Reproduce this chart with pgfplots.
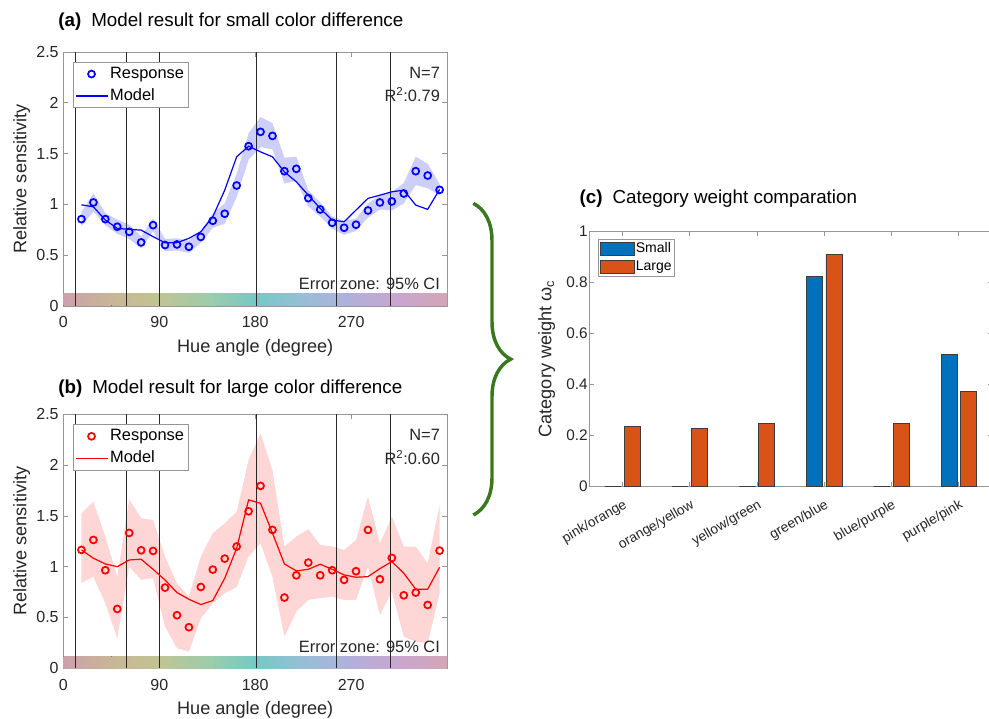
\documentclass[border=0pt]{standalone}
\usepackage{fontspec}
\setmainfont{Liberation Sans}
\usepackage{pgfplots}
\pgfplotsset{compat=1.18}
\usepackage{pgfplotstable}
\usepgfplotslibrary{fillbetween}
\usetikzlibrary{decorations.pathreplacing}

\definecolor{respblue}{RGB}{0,0,255}
\definecolor{bandblue}{RGB}{205,207,250}
\definecolor{respred}{RGB}{255,0,0}
\definecolor{bandred}{RGB}{255,214,214}
\definecolor{axgray}{RGB}{150,150,150}
\definecolor{ticktext}{RGB}{38,38,38}
\definecolor{catline}{RGB}{40,40,40}
\definecolor{mblue}{RGB}{0,114,189}
\definecolor{morange}{RGB}{217,83,25}
\definecolor{baredge}{RGB}{60,60,60}
\definecolor{bracegreen}{RGB}{58,120,32}
% muted hue strip
\definecolor{hb0}{RGB}{205,160,172}
\definecolor{hb1}{RGB}{200,182,150}
\definecolor{hb2}{RGB}{192,196,148}
\definecolor{hb3}{RGB}{158,204,170}
\definecolor{hb4}{RGB}{118,200,196}
\definecolor{hb5}{RGB}{152,190,214}
\definecolor{hb6}{RGB}{178,176,218}
\definecolor{hb7}{RGB}{202,166,206}
\definecolor{hb8}{RGB}{210,166,182}

% hue angle, response, model, 95% CI bounds
\pgfplotstableread{
x     resp   model  lo     hi
17.0  0.855  0.996  0.785  0.925
28.2  1.019  0.976  0.930  1.110
39.4  0.855  0.846  0.795  0.915
50.6  0.780  0.764  0.710  0.850
61.8  0.730  0.754  0.660  0.800
73.0  0.626  0.747  0.566  0.686
84.2  0.796  0.682  0.736  0.862
95.4  0.600  0.623  0.540  0.660
106.6 0.606  0.623  0.546  0.666
117.8 0.583  0.666  0.523  0.643
129.0 0.680  0.731  0.620  0.740
140.2 0.839  0.878  0.770  0.910
151.4 0.908  1.140  0.810  1.010
162.6 1.186  1.468  1.070  1.300
173.8 1.573  1.573  1.440  1.700
185.0 1.714  1.517  1.565  1.860
196.2 1.674  1.468  1.540  1.800
207.4 1.327  1.320  1.206  1.460
218.6 1.350  1.222  1.230  1.470
229.8 1.062  1.091  0.980  1.140
241.0 0.950  0.960  0.880  1.020
252.2 0.819  0.846  0.760  0.880
263.4 0.770  0.829  0.700  0.840
274.6 0.800  0.944  0.740  0.860
285.8 0.940  1.059  0.870  1.010
297.0 1.019  1.091  0.950  1.090
308.2 1.029  1.124  0.940  1.120
319.4 1.107  1.140  1.010  1.210
330.6 1.327  0.993  1.190  1.470
341.8 1.284  0.951  1.160  1.400
353.0 1.143  1.147  1.090  1.200
}\smalltab

\pgfplotstableread{
x     resp   model  lo     hi
17.0  1.165  1.165  0.840  1.525
28.2  1.263  1.083  0.900  1.640
39.4  0.965  1.027  0.640  1.296
50.6  0.584  1.000  0.295  0.900
61.8  1.332  1.066  1.000  1.663
73.0  1.161  1.073  0.870  1.476
84.2  1.155  0.974  0.886  1.460
95.4  0.794  0.869  0.410  1.100
106.6 0.522  0.745  0.197  0.837
117.8 0.404  0.679  0.164  0.705
129.0 0.800  0.627  0.490  1.100
140.2 0.971  0.666  0.640  1.330
151.4 1.079  0.886  0.738  1.427
162.6 1.198  1.181  0.800  1.540
173.8 1.545  1.657  1.100  2.050
185.0 1.795  1.624  1.230  2.313
196.2 1.362  1.330  0.900  1.950
207.4 0.696  1.027  0.310  1.198
218.6 0.915  0.958  0.558  1.296
229.8 1.040  0.974  0.673  1.368
241.0 0.915  1.024  0.690  1.214
252.2 0.965  0.974  0.705  1.198
263.4 0.870  0.919  0.673  1.165
274.6 0.955  0.896  0.673  1.263
285.8 1.362  0.902  1.000  1.690
297.0 0.876  0.981  0.525  1.230
308.2 1.086  1.050  0.755  1.493
319.4 0.718  0.935  0.310  1.198
330.6 0.745  0.778  0.262  1.198
341.8 0.623  0.778  0.246  1.033
353.0 1.158  0.994  0.738  1.608
}\largetab

% category weights
\pgfplotstableread{
c small large
1 0     0.236
2 0     0.228
3 0     0.246
4 0.821 0.909
5 0     0.248
6 0.518 0.374
}\weights

\newcommand{\huestrip}{%
  \fill[left color=hb0,right color=hb1] (axis cs:0,0) rectangle (axis cs:45.5,0.12);
  \fill[left color=hb1,right color=hb2] (axis cs:45,0) rectangle (axis cs:90.5,0.12);
  \fill[left color=hb2,right color=hb3] (axis cs:90,0) rectangle (axis cs:135.5,0.12);
  \fill[left color=hb3,right color=hb4] (axis cs:135,0) rectangle (axis cs:180.5,0.12);
  \fill[left color=hb4,right color=hb5] (axis cs:180,0) rectangle (axis cs:225.5,0.12);
  \fill[left color=hb5,right color=hb6] (axis cs:225,0) rectangle (axis cs:270.5,0.12);
  \fill[left color=hb6,right color=hb7] (axis cs:270,0) rectangle (axis cs:315.5,0.12);
  \fill[left color=hb7,right color=hb8] (axis cs:315,0) rectangle (axis cs:360,0.12);
}
\newcommand{\catlines}{%
  \addplot[forget plot, catline, line width=0.8pt] coordinates {(11,0) (11,2.5)};
  \addplot[forget plot, catline, line width=0.8pt] coordinates {(59.5,0) (59.5,2.5)};
  \addplot[forget plot, catline, line width=0.8pt] coordinates {(90,0) (90,2.5)};
  \addplot[forget plot, catline, line width=0.8pt] coordinates {(181,0) (181,2.5)};
  \addplot[forget plot, catline, line width=0.8pt] coordinates {(256,0) (256,2.5)};
  \addplot[forget plot, catline, line width=0.8pt] coordinates {(306.5,0) (306.5,2.5)};
}

\pgfplotsset{
  matlabaxis/.style={
    scale only axis,
    axis line style={draw=axgray},
    every tick/.style={axgray, line width=0.5pt},
    major tick length=3.5pt,
    tick align=inside,
    /pgf/number format/assume math mode=true,
    every tick label/.append style={text=ticktext},
    label style={font=\fontsize{13.6}{16}\selectfont, text=ticktext},
    title style={font=\fontsize{14.1}{17}\selectfont, anchor=west, inner sep=0pt, yshift=-6pt},
  },
  hueaxis/.style={
    matlabaxis,
    width=287.8pt, height=190.5pt,
    xmin=0, xmax=360, ymin=0, ymax=2.5,
    xtick={0,90,180,270}, ytick={0,0.5,1,1.5,2,2.5},
    yticklabels={0,0.5,1,1.5,2,2.5},
    tick label style={font=\fontsize{12}{14}\selectfont},
    xticklabel style={yshift=-4.5pt},
    xlabel={Hue angle (degree)}, ylabel={Relative sensitivity},
    xlabel style={at={(axis description cs:0.5,-0.163)}, anchor=center},
    ylabel style={at={(axis description cs:-0.1085,0.5)}, anchor=center},
    legend cell align=left,
    legend style={at={(axis description cs:0,1)}, anchor=north west,
      xshift=7pt, yshift=-7.6pt, draw=axgray, fill=white,
      font=\fontsize{12.3}{14}\selectfont, inner xsep=1.5pt, inner ysep=1.5pt,
      row sep=2pt, nodes={inner sep=1.5pt, text height=9pt, text depth=2.5pt}},
    legend image code/.code={\draw[mark repeat=2,mark phase=2,#1]
      plot coordinates {(0pt,0pt) (12pt,0pt) (24pt,0pt)};},
  },
}

\begin{document}
\begin{tikzpicture}

% (a) small colour difference
\begin{axis}[hueaxis, at={(47.5pt,309pt)}, anchor=south west,
  title={\textbf{(a)}\hspace{7.5pt}Model result for small color difference},
  title style={at={(axis description cs:-0.0138,1.119)}}]
  \addplot[name path=ahi, draw=none, forget plot] table[x=x,y=hi]{\smalltab};
  \addplot[name path=alo, draw=none, forget plot] table[x=x,y=lo]{\smalltab};
  \addplot[bandblue, forget plot] fill between[of=ahi and alo];
  \huestrip
  \catlines
  \addplot[forget plot, respblue, line width=0.9pt] table[x=x,y=model]{\smalltab};
  \addplot[forget plot, only marks, mark=o, mark size=2.6pt, line width=1.3pt, respblue] table[x=x,y=resp]{\smalltab};
  \addlegendimage{only marks, mark=o, mark size=2.6pt, line width=1.3pt, respblue}
  \addlegendentry{Response}
  \addlegendimage{respblue, line width=0.9pt}
  \addlegendentry{Model}
  \node[anchor=base east, inner sep=0pt, font=\fontsize{12.3}{14}\selectfont, text=ticktext]
    at (axis description cs:0.982,0.896) {N=7};
  \node[anchor=base east, inner sep=0pt, font=\fontsize{12.3}{14}\selectfont, text=ticktext]
    at (axis description cs:0.982,0.804) {R\textsuperscript{2}:0.79};
  \node[anchor=base east, inner sep=0pt, font=\fontsize{12.3}{14}\selectfont, text=ticktext]
    at (axis description cs:0.982,0.063) {Error zone: 95\% CI};
\end{axis}

% (b) large colour difference
\begin{axis}[hueaxis, at={(47.5pt,37.3pt)}, anchor=south west,
  title={\textbf{(b)}\hspace{7.5pt}Model result for large color difference},
  title style={at={(axis description cs:-0.0138,1.102)}}]
  \addplot[name path=bhi, draw=none, forget plot] table[x=x,y=hi]{\largetab};
  \addplot[name path=blo, draw=none, forget plot] table[x=x,y=lo]{\largetab};
  \addplot[bandred, forget plot] fill between[of=bhi and blo];
  \huestrip
  \catlines
  \addplot[forget plot, respred, line width=0.9pt] table[x=x,y=model]{\largetab};
  \addplot[forget plot, only marks, mark=o, mark size=2.6pt, line width=1.3pt, respred] table[x=x,y=resp]{\largetab};
  \addlegendimage{only marks, mark=o, mark size=2.6pt, line width=1.3pt, respred}
  \addlegendentry{Response}
  \addlegendimage{respred, line width=0.9pt}
  \addlegendentry{Model}
  \node[anchor=base east, inner sep=0pt, font=\fontsize{12.3}{14}\selectfont, text=ticktext]
    at (axis description cs:0.982,0.895) {N=7};
  \node[anchor=base east, inner sep=0pt, font=\fontsize{12.3}{14}\selectfont, text=ticktext]
    at (axis description cs:0.982,0.803) {R\textsuperscript{2}:0.60};
  \node[anchor=base east, inner sep=0pt, font=\fontsize{12.3}{14}\selectfont, text=ticktext]
    at (axis description cs:0.982,0.063) {Error zone: 95\% CI};
\end{axis}

% (c) category weights
\begin{axis}[matlabaxis, at={(441.75pt,173.5pt)}, anchor=south west,
  width=302.4pt, height=191.8pt,
  xmin=0.5, xmax=6.5, ymin=0, ymax=1,
  xtick={1,2,3,4,5,6},
  xticklabels={pink/orange,orange/yellow,yellow/green,green/blue,blue/purple,purple/pink},
  ytick={0,0.2,0.4,0.6,0.8,1}, yticklabels={0,0.2,0.4,0.6,0.8,1},
  yticklabel style={font=\fontsize{11.5}{13}\selectfont, xshift=2.5pt},
  xticklabel style={font=\fontsize{10.3}{12}\selectfont, xshift=0pt, yshift=-8.7pt,
    rotate=30, anchor=north east, inner sep=0pt},
  ylabel={Category weight ω\textsubscript{c}},
  ylabel style={at={(axis description cs:-0.105,0.5)}, anchor=center},
  title={\textbf{(c)}\hspace{7.5pt}Category weight comparation},
  title style={at={(axis description cs:-0.024,1.128)}},
  legend cell align=left,
  legend style={at={(axis description cs:0,1)}, anchor=north west,
    xshift=6.75pt, yshift=-6pt, draw=axgray, fill=white,
    font=\fontsize{10.5}{12}\selectfont, inner xsep=1.5pt, inner ysep=1.5pt,
    row sep=2.5pt, nodes={inner sep=0.8pt, text height=7.5pt, text depth=2pt}},
  legend image code/.code={\draw[#1] (0pt,-4.9pt) rectangle (25.5pt,4.9pt);},
  ]
  \addplot[ybar, bar width=0.238, bar shift=-0.143, fill=mblue, draw=baredge, line width=0.4pt]
    table[x=c,y=small]{\weights};
  \addlegendentry{Small}
  \addplot[ybar, bar width=0.238, bar shift=0.143, fill=morange, draw=baredge, line width=0.4pt]
    table[x=c,y=large]{\weights};
  \addlegendentry{Large}
\end{axis}

% brace linking the two hue panels to the weights
\draw[bracegreen, line width=2.6pt, decorate, decoration={brace, amplitude=28pt}]
  (355pt,386pt) -- (355pt,152.25pt);

\pgfresetboundingbox
\path[use as bounding box] (0pt,0pt) rectangle (741.75pt,538.5pt);
\end{tikzpicture}
\end{document}
